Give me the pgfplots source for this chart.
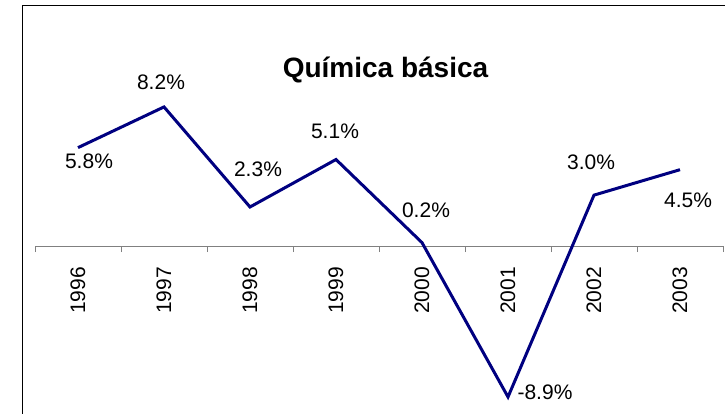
\documentclass[border=0pt]{standalone}
\usepackage{pgfplots}
\pgfplotsset{compat=1.18}
\usepackage{pgfplotstable}
\usepackage{fontspec}
\setmainfont{Liberation Sans}
\definecolor{navy}{HTML}{000080}
\pgfplotstableread{
x y lab dx dy
0 5.8 5.8 11 -14
1 8.2 8.2 -3 25
2 2.3 2.3 8 38
3 5.1 5.1 -1 28
4 0.2 0.2 4 32
5 -8.9 -8.9 37 5
6 3.0 3.0 -3 33
7 4.5 4.5 8 -31
}\datatable
\begin{document}
\begin{tikzpicture}
\useasboundingbox (0,0) rectangle (725pt,-413pt);
\draw[black, line width=1pt] (22.5pt,-5.5pt) rectangle (745pt,-440pt);
\node[font=\fontsize{28}{32}\selectfont\bfseries, anchor=base, inner sep=0pt] at (385.5pt,-77pt) {Química básica};
\begin{axis}[
  at={(78pt,-246pt)}, anchor=origin,
  x=86pt, y=16.96pt,
  xmin=-0.5, xmax=7.5, ymin=-9.5, ymax=10,
  axis x line=middle, axis y line=none,
  x axis line style={draw=gray, line width=1pt, -},
  xtick={0,...,7},
  xticklabels={1996,1997,1998,1999,2000,2001,2002,2003},
  major tick length=0pt,
  minor xtick={-0.5,0.5,...,7.5},
  minor tick length=6pt,
  xtick align=outside,
  minor tick style={draw=gray, line width=1pt},
  xticklabel style={rotate=90, anchor=east, inner sep=0pt, font=\fontsize{21}{25}\selectfont},
  xticklabel shift=21pt,
  clip=false,
]
\addplot[navy, line width=3pt, mark=none,
  point meta=explicit symbolic,
  nodes near coords={\pgfplotspointmeta\%},
  visualization depends on={\thisrow{dx} \as \dx},
  visualization depends on={\thisrow{dy} \as \dy},
  every node near coord/.append style={anchor=center, xshift=\dx pt, yshift=\dy pt, text=black, inner sep=0pt, font=\fontsize{21}{25}\selectfont},
] table[x=x, y=y, meta=lab] {\datatable};
\end{axis}
\end{tikzpicture}
\end{document}
